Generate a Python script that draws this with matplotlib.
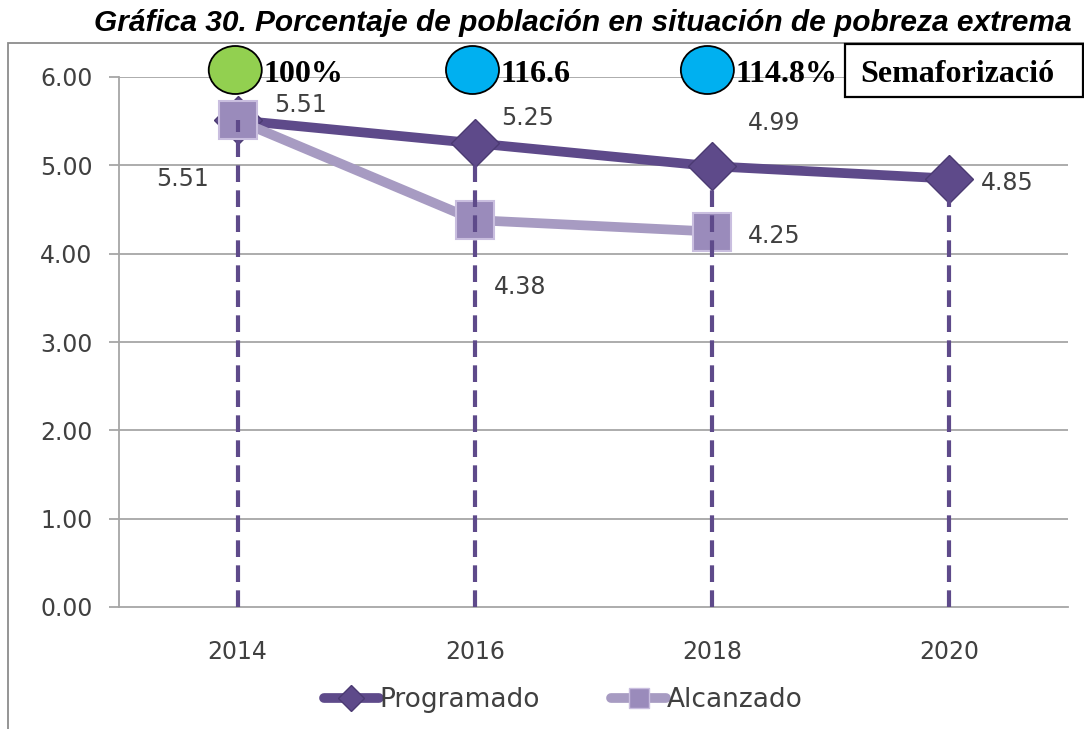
import numpy as np
import matplotlib
matplotlib.use("Agg")
import matplotlib.pyplot as plt
import matplotlib.patches as patches
import matplotlib.transforms as mtransforms
from matplotlib.lines import Line2D

# data
years = ["2014", "2016", "2018", "2020"]
programado = [5.51, 5.25, 4.99, 4.85]
alcanzado = [5.51, 4.38, 4.25]
semaforo_colors = ["#92D050", "#00B0F0", "#00B0F0"]
semaforo_labels = ["100%", "116.6", "114.8%"]

c_prog = "#5E4A8A"
c_alc = "#A79BC2"
c_sq = "#9A8BBB"
c_txt = "#404040"
c_grid = "#A6A6A6"

fig = plt.figure(figsize=(10.84, 7.29), dpi=100)
ax = fig.add_axes([119/1084, 122/729, 949/1084, 530/729])

x = np.arange(len(years))
xa = np.arange(len(alcanzado))

ax.set_xlim(-0.5, len(years) - 0.5)
ax.set_ylim(0, 6)
ax.set_yticks(np.arange(0, 7, 1))
ax.set_yticklabels([f"{v:.2f}" for v in np.arange(0, 7, 1)])
ax.set_xticks(x)
ax.set_xticklabels(years)
for v in range(1, 7):
    ax.axhline(v, color=c_grid, lw=1.3, zorder=0)
for s in ["top", "right"]:
    ax.spines[s].set_visible(False)
ax.spines["left"].set_color(c_grid)
ax.spines["bottom"].set_color(c_grid)
ax.spines["left"].set_linewidth(1.3)
ax.spines["bottom"].set_linewidth(1.3)
ax.tick_params(axis="y", length=7, color=c_grid, width=1.3, labelsize=17,
               labelcolor=c_txt, pad=12)
ax.tick_params(axis="x", length=0, labelsize=17, labelcolor=c_txt, pad=24)

# series
ax.plot(x, programado, color=c_prog, lw=7, marker="D", ms=24,
        mfc=c_prog, mec="#4B3A72", mew=1, zorder=3, solid_capstyle="butt")
ax.plot(xa, alcanzado, color=c_alc, lw=7, marker="s", ms=27,
        mfc=c_sq, mec="#C9BEDF", mew=1.5, zorder=4, solid_capstyle="butt")
ax.vlines(x, 0, programado, colors=c_prog, lw=3, linestyles=(0, (4, 2)), zorder=5)

# data labels
lab = dict(fontsize=17, color=c_txt, zorder=6, textcoords="offset points", va="center")
ax.annotate(f"{programado[0]:.2f}", (x[0], programado[0]), xytext=(26, 11), ha="left", **lab)
ax.annotate(f"{alcanzado[0]:.2f}", (xa[0], alcanzado[0]), xytext=(-21, -42), ha="right", **lab)
ax.annotate(f"{programado[1]:.2f}", (x[1], programado[1]), xytext=(19, 18), ha="left", **lab)
ax.annotate(f"{programado[2]:.2f}", (x[2], programado[2]), xytext=(26, 31), ha="left", **lab)
ax.annotate(f"{programado[3]:.2f}", (x[3], programado[3]), xytext=(23, -3), ha="left", **lab)
ax.annotate(f"{alcanzado[1]:.2f}", (xa[1], alcanzado[1]), xytext=(14, -48), ha="left", **lab)
ax.annotate(f"{alcanzado[2]:.2f}", (xa[2], alcanzado[2]), xytext=(26, -3), ha="left", **lab)

# legend
handles = [
    Line2D([0], [0], color=c_prog, lw=7, marker="D", ms=13, mfc=c_prog, mec="#4B3A72", solid_capstyle="round"),
    Line2D([0], [0], color=c_alc, lw=7, marker="s", ms=15, mfc=c_sq, mec="#C9BEDF", solid_capstyle="round"),
]
fig.legend(handles, ["Programado", "Alcanzado"], loc="center", bbox_to_anchor=(563/1084, 1 - 700/729),
           ncol=2, frameon=False, fontsize=19, labelcolor=c_txt, handlelength=2.1,
           handletextpad=0.0, columnspacing=2.7)

# outer frame of the chart
fig.add_artist(patches.Rectangle((8/1084, -0.1), 1.2, 1 - 43/729 + 0.1, transform=fig.transFigure,
                                 fill=False, edgecolor="#8C8C8C", lw=1.3))

# title
fig.text(583/1084, 1 - 23/729, "Gráfica 30. Porcentaje de población en situación de pobreza extrema",
         ha="center", va="center", fontsize=21.5, fontweight="bold", fontstyle="italic",
         family="Liberation Sans", color="black")

# semaforo circles anchored on the year positions
trans = mtransforms.blended_transform_factory(ax.transData, fig.transFigure)
offs = [-0.01, -0.01, -0.02]
for i, (col, txt) in enumerate(zip(semaforo_colors, semaforo_labels)):
    cx = x[i] + offs[i]
    e = patches.Ellipse((cx, 1 - 70/729), 53/237, 48/729, transform=trans,
                        facecolor=col, edgecolor="black", lw=1.3, zorder=10)
    fig.add_artist(e)
    fig.text(cx + 28/237, 1 - 74/729, txt, transform=trans,
             fontsize=23, fontweight="bold", family="Liberation Serif", va="center", ha="left",
             zorder=11)

# Semaforizacion box
fig.add_artist(patches.Rectangle((845/1084, 1 - 97/729), 238/1084, 53/729, transform=fig.transFigure,
                                 facecolor="white", edgecolor="black", lw=1.6, zorder=12))
fig.text(860/1084, 1 - 74/729, "Semaforizació", fontsize=23, fontweight="bold",
         family="Liberation Serif", va="center", ha="left", zorder=13)

fig.savefig("out.png", dpi=100)
